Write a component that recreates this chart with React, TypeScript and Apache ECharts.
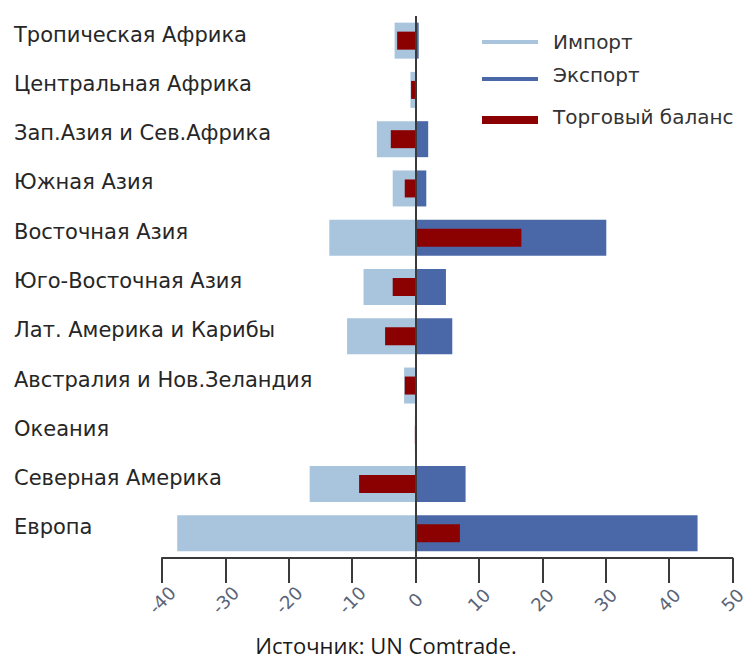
import React, { useEffect, useRef } from "react";
import * as echarts from "echarts";

const categories = [
  "Тропическая Африка",
  "Центральная Африка",
  "Зап.Азия и Сев.Африка",
  "Южная Азия",
  "Восточная Азия",
  "Юго-Восточная Азия",
  "Лат. Америка и Карибы",
  "Австралия и Нов.Зеландия",
  "Океания",
  "Северная Америка",
  "Европа",
];
const importVals = [-3.3, -0.8, -6.1, -3.6, -13.6, -8.2, -10.8, -1.8, -0.1, -16.7, -37.6];
const exportVals = [0.5, 0.1, 2.0, 1.7, 30.1, 4.8, 5.8, 0.1, 0.05, 7.9, 44.5];
const balanceVals = [-2.9, -0.7, -3.9, -1.7, 16.7, -3.6, -4.8, -1.7, -0.1, -8.9, 7.0];
const legendNames = ["Импорт", "Экспорт", "Торговый баланс"];
const sourceText = "Источник: UN Comtrade.";

const C_IMPORT = "#a9c5de";
const C_EXPORT = "#4a68a8";
const C_BAL = "#8b0000";

export default function App() {
  const ref = useRef<HTMLDivElement>(null);
  useEffect(() => {
    if (!ref.current) return;
    const chart = echarts.init(ref.current, null, { renderer: "svg" });
    const labelFont = "DejaVu Sans";
    chart.setOption({
      animation: false,
      backgroundColor: "#ffffff",
      grid: { left: 162, right: 11, top: 16, bottom: 101, containLabel: false },
      xAxis: {
        type: "value",
        min: -40,
        max: 50,
        interval: 10,
        splitLine: { show: false },
        axisLine: { show: true, lineStyle: { color: "#3a3a3a", width: 2 } },
        axisTick: { show: true, length: 25, lineStyle: { color: "#3a3a3a", width: 2 } },
        axisLabel: {
          rotate: 45,
          margin: 42,
          align: "center",
          verticalAlign: "middle",
          color: "#5a6478",
          fontSize: 18,
          fontFamily: labelFont,
        },
      },
      yAxis: [
        {
          type: "category",
          data: categories,
          inverse: true,
          axisLine: { show: false },
          axisTick: { show: false },
          splitLine: { show: false },
          axisLabel: {
            align: "left",
            margin: 148,
            verticalAlign: "bottom",
            lineHeight: 12,
            color: "#262626",
            fontSize: 21,
            fontFamily: labelFont,
          },
        },
        {
          type: "category",
          data: categories,
          inverse: true,
          show: false,
        },
      ],
      graphic: [
        { type: "rect", shape: { x: 482, y: 40, width: 56, height: 4 }, style: { fill: C_IMPORT } },
        { type: "text", x: 553, y: 42, style: { text: legendNames[0], fill: "#333", font: `20px '${labelFont}'`, textVerticalAlign: "middle" } },
        { type: "rect", shape: { x: 482, y: 77, width: 56, height: 4 }, style: { fill: C_EXPORT } },
        { type: "text", x: 553, y: 75, style: { text: legendNames[1], fill: "#333", font: `20px '${labelFont}'`, textVerticalAlign: "middle" } },
        { type: "rect", shape: { x: 482, y: 116, width: 56, height: 8 }, style: { fill: C_BAL } },
        { type: "text", x: 553, y: 117, style: { text: legendNames[2], fill: "#333", font: `20px '${labelFont}'`, textVerticalAlign: "middle" } },
        { type: "text", x: 386, y: 645, style: { text: sourceText, fill: "#1a1a1a", font: "22px 'Open Sans'", textAlign: "center", textVerticalAlign: "middle" } },
      ],
      series: [
        {
          name: legendNames[0],
          type: "bar",
          stack: "trade",
          data: importVals,
          barWidth: 36,
          itemStyle: { color: C_IMPORT },
          markLine: {
            silent: true,
            symbol: "none",
            label: { show: false },
            lineStyle: { color: "#3a3a3a", width: 2, type: "solid" },
            data: [{ xAxis: 0 }],
          },
        },
        {
          name: legendNames[1],
          type: "bar",
          stack: "trade",
          data: exportVals,
          barWidth: 36,
          itemStyle: { color: C_EXPORT },
        },
        {
          name: legendNames[2],
          type: "bar",
          yAxisIndex: 1,
          data: balanceVals,
          barWidth: 18,
          itemStyle: { color: C_BAL },
        },
      ],
    });
    return () => chart.dispose();
  }, []);
  return <div ref={ref} style={{ position: "fixed", left: 0, top: 0, width: 749, height: 659 }} />;
}
